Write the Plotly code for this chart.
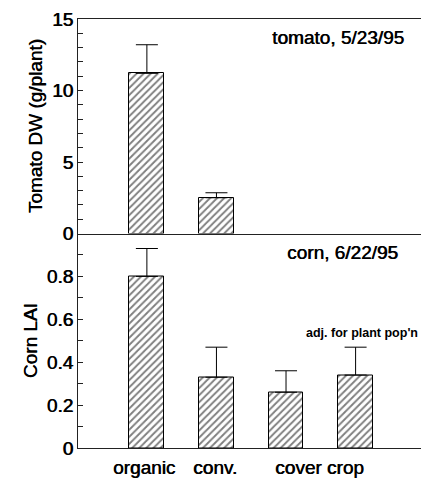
import plotly.graph_objects as go
from plotly.subplots import make_subplots

# data
bar_pos = [0, 1, 2, 3]
tomato_pos = [0, 1]
tomato_dw = [11.2, 2.5]
tomato_err = [2.0, 0.35]
corn_lai = [0.80, 0.33, 0.26, 0.34]
corn_err = [0.13, 0.14, 0.10, 0.13]
x_label_pos = [-0.04, 0.98, 2.48]
x_labels = ["organic", "conv.", "cover crop"]
top_ticks = [0, 5, 10, 15]
bot_ticks = [0, 0.2, 0.4, 0.6, 0.8]
bot_tick_text = ["0", "0.2", "0.4", "0.6", "0.8"]

FONT = "Liberation Sans, Arial, Helvetica, sans-serif"
LINE = "#222222"
SH = "0.6px 0px 0px black"


def f(size):
    return dict(family=FONT, size=size, color="black", shadow=SH)


fig = make_subplots(rows=2, cols=1, shared_xaxes=True, vertical_spacing=0)

pattern = dict(shape="/", fgcolor="black", bgcolor="white", size=5, solidity=0.38)

fig.add_trace(go.Bar(
    x=tomato_pos, y=tomato_dw, width=0.5,
    marker=dict(color="white", pattern=pattern, line=dict(color="black", width=1)),
    error_y=dict(type="data", symmetric=False, array=tomato_err,
                 arrayminus=[0] * len(tomato_err), color="black", thickness=1, width=11),
    showlegend=False), row=1, col=1)

fig.add_trace(go.Bar(
    x=bar_pos, y=corn_lai, width=0.5,
    marker=dict(color="white", pattern=pattern, line=dict(color="black", width=1)),
    error_y=dict(type="data", symmetric=False, array=corn_err,
                 arrayminus=[0] * len(corn_err), color="black", thickness=1, width=11),
    showlegend=False), row=2, col=1)

xr = [-0.99, 3.94]
fig.update_xaxes(range=xr, showgrid=False, zeroline=False, showline=True,
                 linecolor=LINE, linewidth=1, ticks="")
fig.update_xaxes(mirror=True, showticklabels=False, row=1, col=1)
fig.update_xaxes(tickvals=x_label_pos, ticktext=x_labels, showticklabels=True,
                 tickfont=f(19), ticklabelstandoff=2, row=2, col=1)

common_y = dict(showgrid=False, zeroline=False, showline=True, linecolor=LINE,
                linewidth=1, ticks="inside", ticklen=5, tickcolor=LINE,
                tickfont=f(19))
fig.update_yaxes(range=[0, 15], tickvals=top_ticks,
                 minor=dict(dtick=1, ticks="inside", ticklen=5, tickcolor=LINE),
                 title=dict(text="Tomato DW (g/plant)", font=f(19), standoff=4),
                 **common_y, row=1, col=1)
fig.update_yaxes(range=[0, 1.0], tickvals=bot_ticks, ticktext=bot_tick_text,
                 minor=dict(dtick=0.1, ticks="inside", ticklen=5, tickcolor=LINE),
                 title=dict(text="Corn LAI", font=f(19), standoff=4),
                 **common_y, row=2, col=1)

fig.add_annotation(text="tomato, 5/23/95", xref="x", yref="y", x=3.72, y=13.7,
                   xanchor="right", yanchor="middle", showarrow=False, font=f(19))
fig.add_annotation(text="corn, 6/22/95", xref="x2", yref="y2", x=3.64, y=0.912,
                   xanchor="right", yanchor="middle", showarrow=False, font=f(19))
fig.add_annotation(text="<b>adj. for plant pop'n</b>", xref="x2", yref="y2", x=3.93, y=0.535,
                   xanchor="right", yanchor="middle", showarrow=False,
                   font=dict(family=FONT, size=12.5, color="black"))

fig.update_layout(width=421, height=478, margin=dict(l=78, r=0, t=19, b=26),
                  plot_bgcolor="white", paper_bgcolor="white", bargap=0)

fig.write_html("out.html", config={"displayModeBar": False},
               post_script="document.body.style.margin='0';document.body.style.overflow='hidden';")
